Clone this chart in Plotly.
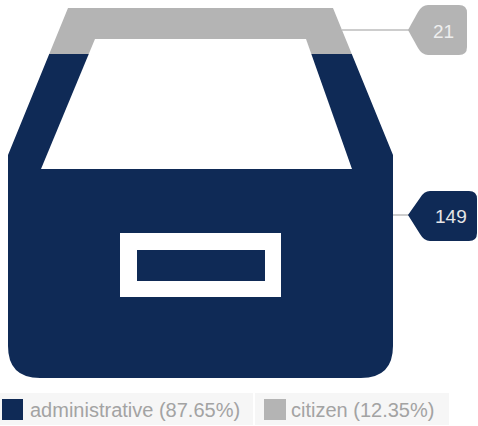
import plotly.graph_objects as go

W, H = 478, 426

categories = ["administrative", "citizen"]
values = [149, 21]
colors = ["#0f2a56", "#b4b4b4"]
total = sum(values)
percents = [f"{v / total * 100:.2f}%" for v in values]


def pt(x, y):
    """Page pixels to paper coordinates."""
    return f"{x / W:.5f},{1 - y / H:.5f}"


def poly(points, close=True):
    d = "M" + " L".join(pt(x, y) for x, y in points)
    return d + (" Z" if close else "")


# Archive-box silhouette: the stacked column shows through it
frame = poly([(0, 0), (W, 0), (W, 390), (0, 390)])
box = (
    "M" + pt(68, 8) + " L" + pt(333, 8) + " L" + pt(393, 155) + " L" + pt(393, 346)
    + " Q" + pt(393, 378) + " " + pt(361, 378) + " L" + pt(40, 378)
    + " Q" + pt(8, 378) + " " + pt(8, 346) + " L" + pt(8, 155) + " Z"
)
opening = poly([(95, 39), (306, 39), (352, 169), (41, 169)])
slot_outer = poly([(120, 233), (281, 233), (281, 297), (120, 297)])
slot_inner = poly([(137, 250), (265, 250), (265, 281), (137, 281)])


def callout(left, right, top, bottom, tip_x, tip_y, color):
    r = 8
    d = (
        "M" + pt(left + r, top) + " L" + pt(right - r, top)
        + " Q" + pt(right, top) + " " + pt(right, top + r)
        + " L" + pt(right, bottom - r)
        + " Q" + pt(right, bottom) + " " + pt(right - r, bottom)
        + " L" + pt(left + r, bottom)
        + " Q" + pt(left + 2, bottom) + " " + pt(left - 2, bottom - 7)
        + " L" + pt(tip_x, tip_y)
        + " L" + pt(left - 2, top + 7)
        + " Q" + pt(left + 2, top) + " " + pt(left + r, top)
        + " Z"
    )
    return dict(type="path", xref="paper", yref="paper", path=d,
                fillcolor=color, line=dict(width=0), layer="above")


def rect(x0, y0, x1, y1, color):
    return dict(type="rect", xref="paper", yref="paper",
                x0=x0 / W, x1=x1 / W, y0=1 - y1 / H, y1=1 - y0 / H,
                fillcolor=color, line=dict(width=0), layer="above")


def connector(x0, x1, y):
    return dict(type="line", xref="paper", yref="paper",
                x0=x0 / W, x1=x1 / W, y0=1 - y / H, y1=1 - y / H,
                line=dict(color="#bdbdbd", width=1.5), layer="above")


shapes = [
    dict(type="path", xref="paper", yref="paper", path=frame + " " + box,
         fillcolor="#ffffff", line=dict(width=0), layer="above"),
    dict(type="path", xref="paper", yref="paper", path=opening,
         fillcolor="#ffffff", line=dict(width=0), layer="above"),
    dict(type="path", xref="paper", yref="paper", path=slot_outer + " " + slot_inner,
         fillcolor="#ffffff", line=dict(width=0), layer="above"),
    connector(342, 410, 30),
    connector(393, 410, 215),
    callout(420, 467, 5, 55, 408, 30, colors[1]),
    callout(422, 477, 191, 241, 408, 215, colors[0]),
    # Legend rows
    rect(0, 393, 253, 425, "#f6f6f6"),
    rect(255, 393, 449, 425, "#f6f6f6"),
    rect(2, 399, 23, 420, colors[0]),
    rect(264, 399, 286, 420, colors[1]),
]


def text(x, y, s, color, size, anchor="center"):
    return dict(x=x / W, y=1 - y / H, xref="paper", yref="paper", text=s,
                showarrow=False, xanchor=anchor, yanchor="middle",
                font=dict(family="Liberation Sans", size=size, color=color))


annotations = [
    text(443, 31, str(values[1]), "#eeeeee", 19),
    text(451, 216, str(values[0]), "#e6e6e6", 19),
    text(28, 410, f"{categories[0]} ({percents[0]})", "#a3a3a3", 20, "left"),
    text(289, 410, f"{categories[1]} ({percents[1]})", "#a3a3a3", 20, "left"),
]

fig = go.Figure()
for name, value, color in zip(categories, values, colors):
    fig.add_bar(x=[0], y=[value], name=name, marker=dict(color=color, line=dict(width=0)),
                width=1, hoverinfo="skip", showlegend=False)

fig.update_layout(
    barmode="stack",
    width=W,
    height=H,
    margin=dict(l=0, r=0, t=0, b=0),
    paper_bgcolor="#ffffff",
    plot_bgcolor="#ffffff",
    shapes=shapes,
    annotations=annotations,
    xaxis=dict(domain=[8 / W, 393 / W], range=[-0.5, 0.5], visible=False),
    yaxis=dict(domain=[1 - 378 / H, 1 - 8 / H], range=[0, total], visible=False),
)

fig.write_html("out.html", config=dict(displayModeBar=False))
